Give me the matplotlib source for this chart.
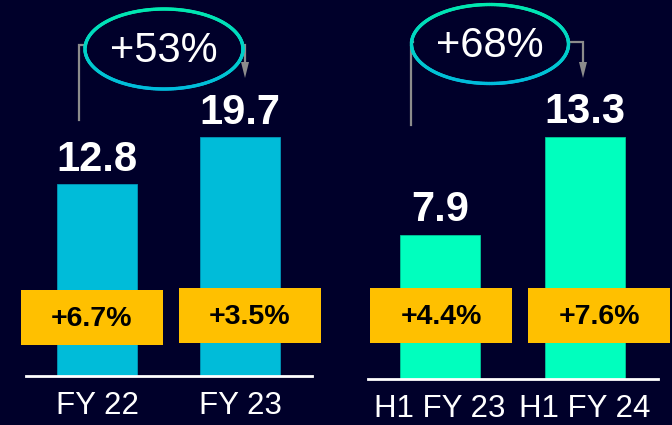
import numpy as np
import matplotlib
matplotlib.use("Agg")
from matplotlib import pyplot as plt
from matplotlib.patches import Rectangle
from matplotlib.collections import LineCollection

# data
fy_labels = ["FY 22", "FY 23"]
fy_values = [12.8, 19.7]
fy_growth = ["+6.7%", "+3.5%"]
fy_change = "+53%"

h1_labels = ["H1 FY 23", "H1 FY 24"]
h1_values = [7.9, 13.3]
h1_growth = ["+4.4%", "+7.6%"]
h1_change = "+68%"

BG = "#00002A"
W, H = 672, 425
plt.rcParams['font.family'] = ['Liberation Sans', 'DejaVu Sans']

fig = plt.figure(figsize=(W / 100, H / 100), dpi=100, facecolor=BG)


def px_axes(x0, x1, ybase):
    # axes from pixel x0..x1, bottom at pixel row ybase, top at row 0
    return fig.add_axes([x0 / W, 1 - ybase / H, (x1 - x0) / W, ybase / H])


def setup(ax):
    ax.set_facecolor("none")
    ax.set_xlim(-0.5, 1.5)
    for s in ["top", "left", "right"]:
        ax.spines[s].set_visible(False)
    ax.spines["bottom"].set_color("white")
    ax.spines["bottom"].set_linewidth(2)
    ax.tick_params(axis="x", length=0, pad=11, labelsize=22.5, labelcolor="white")
    ax.set_yticks([])


# left panel (the original chart has a non-zero bar base)
base = -15.4
ax1 = px_axes(25.5, 311.5, 376)
setup(ax1)
ax1.set_ylim(base, base + 376 / 6.81)
x = np.arange(len(fy_values))
ax1.bar(x, np.array(fy_values) - base, bottom=base, width=0.56,
        color="#00BCD9", edgecolor="#0098B8", linewidth=0.6)
ax1.set_xticks(x, fy_labels)
for i, v in enumerate(fy_values):
    ax1.annotate(f"{v}", (i, v), xytext=(0, 9), textcoords="offset points",
                 ha="center", va="baseline", color="white", fontsize=30,
                 fontweight="bold")

# right panel
ax2 = px_axes(367.5, 657.5, 379)
setup(ax2)
ax2.set_ylim(0, 379 / 18.2)
x = np.arange(len(h1_values))
ax2.bar(x, h1_values, width=0.55, color="#00FFBE", edgecolor="#00C898",
        linewidth=0.6)
ax2.set_xticks(x, h1_labels)
for i, v in enumerate(h1_values):
    ax2.annotate(f"{v}", (i, v), xytext=(0, 10), textcoords="offset points",
                 ha="center", va="baseline", color="white", fontsize=30,
                 fontweight="bold")

# overlays in pixel coordinates (origin top-left)
ov = fig.add_axes([0, 0, 1, 1])
ov.set_xlim(0, W)
ov.set_ylim(H, 0)
ov.axis("off")
ov.patch.set_alpha(0)

# yellow growth boxes
boxes = [(21, 290), (179, 288), (370, 288), (528, 288)]
for (bx, by), t in zip(boxes, fy_growth + h1_growth):
    ov.add_patch(Rectangle((bx, by), 142, 55, facecolor="#FFC000",
                           edgecolor="none"))
    ov.text(bx + 71, by + 29, t, ha="center", va="center", fontsize=20.5,
            fontweight="bold", color="black")


def ring(cx, cy, w, h, label):
    t = np.linspace(0, 2 * np.pi, 300)
    xs = cx + w / 2 * np.cos(t)
    ys = cy + h / 2 * np.sin(t)
    pts = np.column_stack([xs, ys]).reshape(-1, 1, 2)
    segs = np.concatenate([pts[:-1], pts[1:]], axis=1)
    f = (np.sin(t[:-1]) + 1) / 2  # 0 at top, 1 at bottom
    c0 = np.array([0, 232, 176]) / 255
    c1 = np.array([0, 188, 220]) / 255
    cols = c0[None, :] * (1 - f[:, None]) + c1[None, :] * f[:, None]
    ov.add_collection(LineCollection(segs, colors=cols, linewidths=2.4,
                                     capstyle="round"))
    ov.text(cx, cy + 2, label, ha="center", va="center", fontsize=30,
            color="white")


def connector(xl, yl_bottom, ex_left, ex_right, xr, ytop, yr_bottom):
    g = "#8C8C8C"
    ov.plot([xl, xl, ex_left], [yl_bottom, ytop, ytop], color=g, lw=1.6,
            solid_joinstyle="miter")
    ov.plot([ex_right, xr, xr], [ytop, ytop, yr_bottom - 14], color=g, lw=1.6,
            solid_joinstyle="miter")
    ov.fill([xr - 4, xr + 4, xr], [yr_bottom - 16, yr_bottom - 16,
                                    yr_bottom], color=g, lw=0)


connector(79, 120, 86, 242, 245, 45, 78)
ring(164, 49, 158, 80, fy_change)
connector(411, 125, 413, 568, 583, 42, 78)
ring(490, 44, 157, 79, h1_change)

fig.savefig("out.png", dpi=100, facecolor=BG)
